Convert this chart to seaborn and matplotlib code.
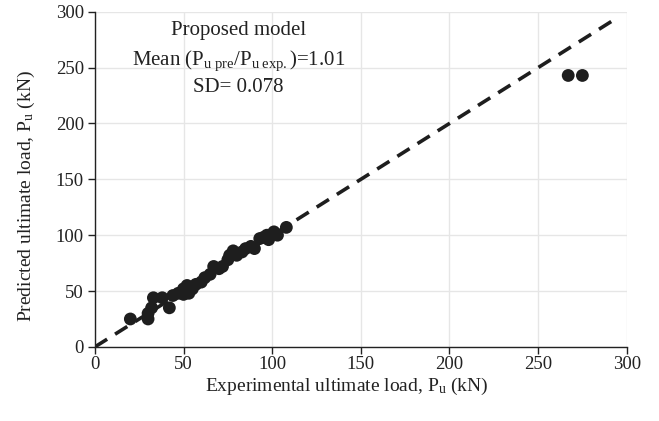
import matplotlib
matplotlib.use("Agg")
import matplotlib.pyplot as plt
import seaborn as sns
import pandas as pd

# Data
experimental = [20, 30, 30, 32, 33, 38, 42, 44, 47, 50, 50, 52, 53, 55, 57, 60, 62, 65, 67, 70,
                72, 75, 76, 78, 80, 83, 85, 88, 90, 93, 95, 97, 98, 100, 101, 103, 108, 267, 275]
predicted = [25, 25, 30, 35, 44, 44, 35, 46, 48, 47, 52, 55, 48, 52, 56, 58, 62, 65, 72, 70,
             72, 78, 82, 86, 82, 85, 88, 90, 88, 97, 98, 100, 96, 100, 103, 100, 107, 243, 243]
line_x = [0, 294]
line_y = [0, 294]
x_ticks = [0, 50, 100, 150, 200, 250, 300]
y_ticks = [0, 50, 100, 150, 200, 250, 300]

df = pd.DataFrame({"exp": experimental, "pre": predicted})
ref = pd.DataFrame({"x": line_x, "y": line_y})

sns.set_theme(style="whitegrid")
plt.rcParams["font.family"] = ["Liberation Serif", "DejaVu Serif"]
plt.rcParams["mathtext.fontset"] = "custom"
plt.rcParams["mathtext.rm"] = "Liberation Serif"
plt.rcParams["mathtext.it"] = "Liberation Serif:italic"

fig = plt.figure(figsize=(6.59, 4.21), dpi=100)
ax = fig.add_axes([0.144, 0.176, 0.807, 0.796])

sns.lineplot(data=ref, x="x", y="y", ax=ax, color="#1e1e1e", linewidth=2.6,
             dashes=False, linestyle=(0, (4, 2.6)), zorder=2)
sns.scatterplot(data=df, x="exp", y="pre", ax=ax, color="#1e1e1e", s=85,
                edgecolor="none", zorder=3)

ax.set_xlim(0, 300)
ax.set_ylim(0, 300)
ax.set_xticks(x_ticks)
ax.set_yticks(y_ticks)
ax.grid(True, color="#e6e6e6", linewidth=1.0)
for side in ["top", "right"]:
    ax.spines[side].set_visible(False)
for side in ["left", "bottom"]:
    ax.spines[side].set_visible(True)
    ax.spines[side].set_color("#222222")
    ax.spines[side].set_linewidth(1.0)
ax.tick_params(axis="both", which="both", direction="out", length=5, width=1,
               color="#222222", labelsize=13.5, labelcolor="#222222", bottom=True, left=True,
               pad=3)
ax.tick_params(axis="x", pad=1.5)

ax.set_xlabel(r"Experimental ultimate load, P$_{\rm u}$ (kN)", fontsize=14, color="#222222",
              va="center")
ax.set_ylabel(r"Predicted ultimate load, P$_{\rm u}$ (kN)", fontsize=14, color="#222222",
              va="center")
ax.xaxis.set_label_coords(0.474, -0.117)
ax.yaxis.set_label_coords(-0.128, 0.45)

tx = 81
ax.text(tx, 283, "Proposed model", ha="center", va="center", fontsize=15, color="#222222")
ax.text(tx, 256, r"Mean (P$_{\rm u\ pre}$/P$_{\rm u\ exp.}$)=1.01", ha="center", va="center",
        fontsize=15, color="#222222")
ax.text(tx, 232, "SD= 0.078", ha="center", va="center", fontsize=15, color="#222222")

fig.savefig("out.png", dpi=100)
